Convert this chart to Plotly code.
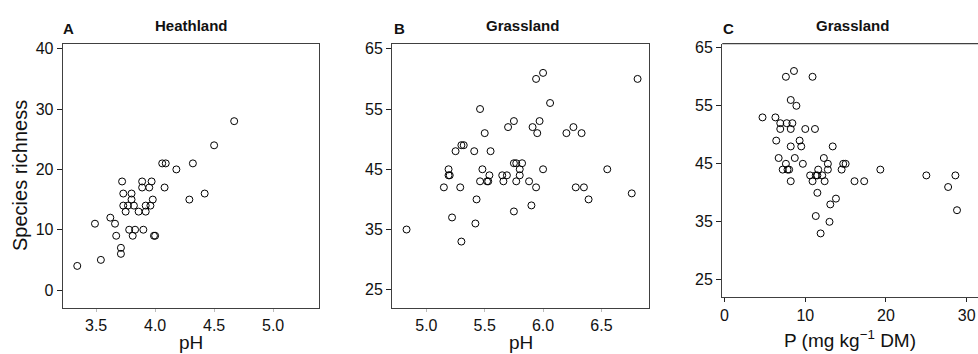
import plotly.graph_objects as go

# ---------------- data ----------------
# Panel A: Heathland, pH vs species richness
heath_ph = [4.67, 4.50, 4.06, 4.09, 4.18, 4.32,
            3.72, 3.89, 3.97, 4.08, 3.89, 3.95,
            3.73, 3.80, 4.42, 3.80, 3.98, 4.29,
            3.73, 3.77, 3.82, 3.92, 3.96,
            3.75, 3.86, 3.92, 3.62, 3.49, 3.66,
            3.78, 3.83, 3.90, 3.67, 3.81, 3.99, 4.00,
            3.71, 3.71, 3.54, 3.34]
heath_rich = [28, 24, 21, 21, 20, 21,
              18, 18, 18, 17, 17, 17,
              16, 16, 16, 15, 15, 15,
              14, 14, 14, 14, 14,
              13, 13, 13, 12, 11, 11,
              10, 10, 10, 9, 9, 9, 9,
              7, 6, 5, 4]

# Panel B: Grassland, pH vs species richness
grass_ph = [6.00, 5.94, 6.81, 6.06, 5.46, 5.75, 5.97, 5.70, 5.91, 6.26,
            5.50, 5.95, 6.20, 6.33, 5.30, 5.32, 5.25, 5.41, 5.55,
            5.19, 5.48, 6.00, 6.55, 5.75, 5.77, 5.82, 5.80,
            5.19, 5.20, 5.54, 5.65, 5.69, 5.80,
            5.46, 5.52, 5.53, 5.66, 5.77, 5.88,
            5.15, 5.29, 5.94, 6.28, 6.35,
            6.76, 5.43, 6.39, 5.90, 5.75, 5.22, 5.42, 4.83, 5.30]
grass_rich = [61, 60, 60, 56, 55, 53, 53, 52, 52, 52,
              51, 51, 51, 51, 49, 49, 48, 48, 48,
              45, 45, 45, 45, 46, 46, 46, 45,
              44, 44, 44, 44, 44, 44,
              43, 43, 43, 43, 43, 43,
              42, 42, 42, 42, 42,
              41, 40, 40, 39, 38, 37, 36, 35, 33]

# Panel C: Grassland, P (mg kg-1 DM) vs species richness
grass_p = [8.6, 7.6, 10.9, 8.2, 8.9, 4.7, 6.3, 6.9, 7.7, 8.4,
           6.9, 8.2, 10.0, 11.2, 6.4, 9.3, 8.2, 9.5, 13.4,
           6.7, 8.7, 12.3, 7.6, 9.7, 12.8, 14.7, 15.0,
           7.2, 7.8, 8.0, 11.6, 12.8, 14.5, 19.3,
           10.6, 11.3, 11.5, 12.1, 25.0, 28.6,
           8.2, 10.9, 12.4, 16.1, 17.3,
           27.7, 11.5, 13.8, 13.1, 28.8, 11.3, 13.0, 11.9]
grass_rich_p = [61, 60, 60, 56, 55, 53, 53, 52, 52, 52,
                51, 51, 51, 51, 49, 49, 48, 48, 48,
                46, 46, 46, 45, 45, 45, 45, 45,
                44, 44, 44, 44, 44, 44, 44,
                43, 43, 43, 43, 43, 43,
                42, 42, 42, 42, 42,
                41, 40, 39, 38, 37, 36, 35, 33]

ph_ticks_a = [3.5, 4.0, 4.5, 5.0]
rich_ticks_a = [0, 10, 20, 30, 40]
ph_ticks_b = [5.0, 5.5, 6.0, 6.5]
rich_ticks_bc = [25, 35, 45, 55, 65]
p_ticks_c = [0, 10, 20, 30]

# ---------------- figure ----------------
W, H = 978, 354
FONT = "Liberation Sans, Arial, sans-serif"
INK = "#111111"
LINE = "#404040"

def px(x):
    return x / W

def py(y):
    return 1 - y / H

marker = dict(symbol="circle-open", size=7, color="black", line=dict(width=1, color="black"))

fig = go.Figure()
fig.add_trace(go.Scatter(x=heath_ph, y=heath_rich, mode="markers", marker=marker,
                         xaxis="x", yaxis="y", showlegend=False))
fig.add_trace(go.Scatter(x=grass_ph, y=grass_rich, mode="markers", marker=marker,
                         xaxis="x2", yaxis="y2", showlegend=False))
fig.add_trace(go.Scatter(x=grass_p, y=grass_rich_p, mode="markers", marker=marker,
                         xaxis="x3", yaxis="y3", showlegend=False))

tickfont = dict(family=FONT, size=16, color=INK)

def xax(domain, rng, ticks, mirror, ticklen, tickcolor, anchor):
    return dict(domain=domain, range=rng, tickvals=ticks,
                ticktext=[f"{t:.1f}" if isinstance(t, float) else str(t) for t in ticks],
                showgrid=False, zeroline=False, showline=True, linecolor=LINE, linewidth=1.3,
                mirror=mirror, ticks="outside", ticklen=ticklen, tickwidth=1,
                tickcolor=tickcolor, tickfont=tickfont, anchor=anchor)

def yax(domain, rng, ticks, mirror, anchor):
    return dict(domain=domain, range=rng, tickvals=ticks,
                showgrid=False, zeroline=False, showline=True, linecolor=LINE, linewidth=1.3,
                mirror=mirror, ticks="outside", ticklen=5, tickwidth=1.2,
                tickcolor="#222222", tickfont=tickfont, anchor=anchor)

dom_y_ab = [py(307), py(40)]
dom_y_c = [py(296), py(40)]

fig.update_layout(
    width=W, height=H,
    margin=dict(l=0, r=0, t=0, b=0),
    paper_bgcolor="white", plot_bgcolor="white",
    font=dict(family=FONT, color=INK),
    xaxis=xax([px(61), px(318)], [3.218, 5.392], ph_ticks_a, True, 3, "#bbbbbb", "y"),
    yaxis=yax(dom_y_ab, [-2.9, 40.87], rich_ticks_a, True, "x"),
    xaxis2=xax([px(391), px(648)], [4.707, 6.905], ph_ticks_b, True, 3, "#bbbbbb", "y2"),
    yaxis2=yax(dom_y_ab, [22.05, 65.87], rich_ticks_bc, True, "x2"),
    xaxis3=xax([px(721.7), 1.0], [-0.29, 31.4], p_ticks_c, False, 4, "#222222", "y3"),
    yaxis3=yax(dom_y_c, [22.1, 65.73], rich_ticks_bc, False, "x3"),
)
# top border for panel C
fig.add_shape(type="line", xref="paper", yref="paper", x0=px(721.7), x1=1.0,
              y0=py(40), y1=py(40), line=dict(color=LINE, width=1.3))

def ann(text, x, y, size, bold=False, angle=0):
    fig.add_annotation(text=f"<b>{text}</b>" if bold else text,
                       x=px(x), y=py(y), xref="paper", yref="paper",
                       xanchor="center", yanchor="middle", showarrow=False,
                       textangle=angle,
                       font=dict(family=FONT, size=size, color=INK))

ann("A", 67, 25, 15, bold=True)
ann("Heathland", 190, 22, 15, bold=True)
ann("B", 398, 24.5, 15, bold=True)
ann("Grassland", 522, 22, 15, bold=True)
ann("C", 728, 24.5, 15, bold=True)
ann("Grassland", 852, 22, 15, bold=True)

ann("pH", 189, 342, 19)
ann("pH", 520, 342, 19)
ann("P (mg kg<sup>−1</sup> DM)", 850, 339, 19)
ann("Species richness", 18, 173, 20, angle=-90)

fig.write_html(
    "out.html",
    config={"displayModeBar": False},
    post_script="document.body.style.margin='0';document.body.style.overflow='hidden';",
)
